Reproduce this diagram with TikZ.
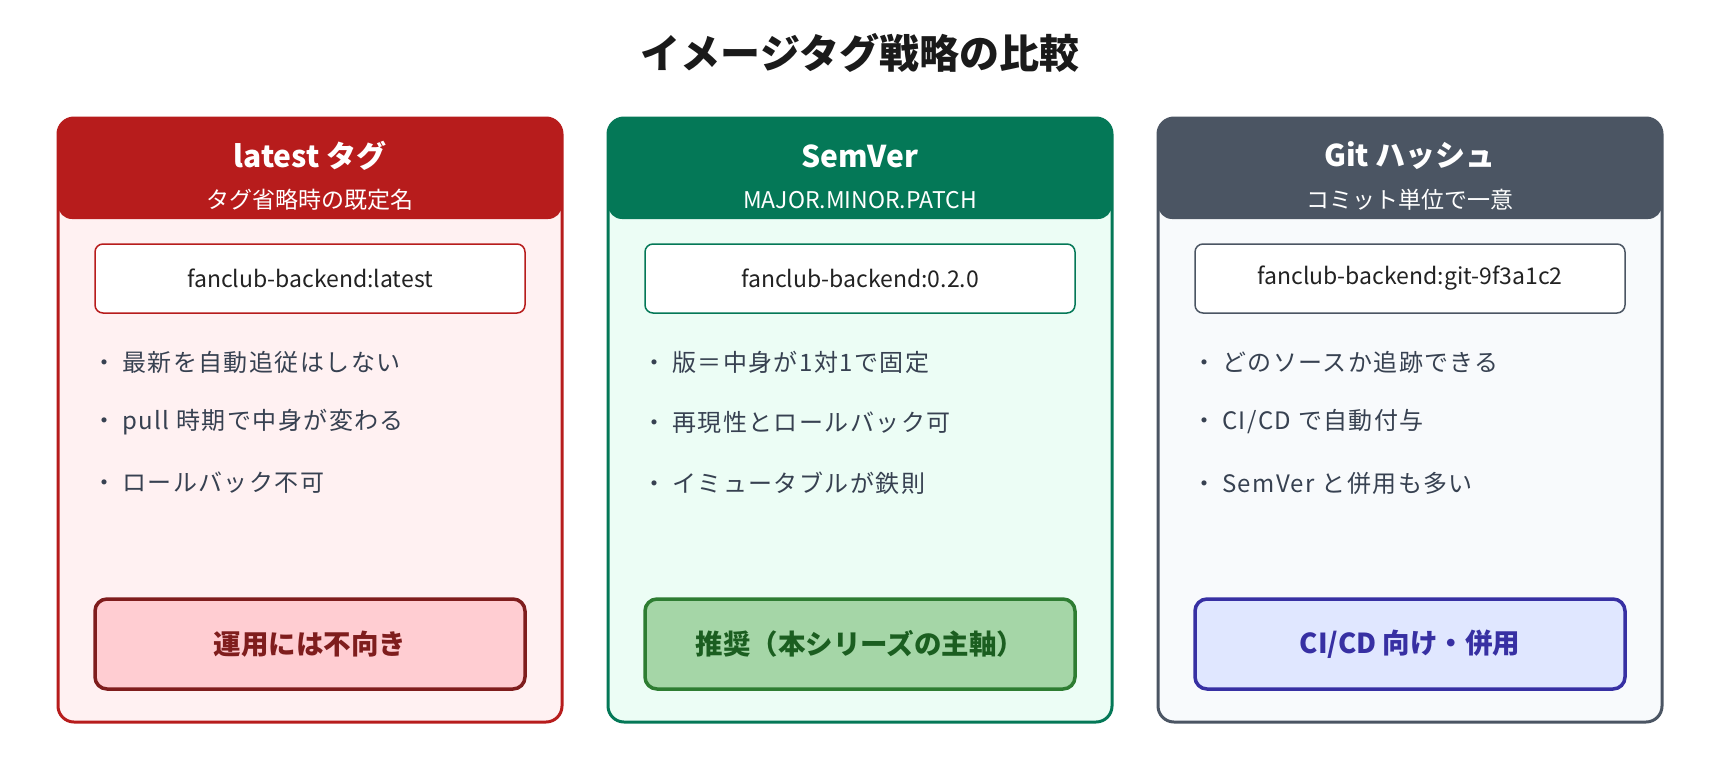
\documentclass[tikz,border=0pt]{standalone}
\usepackage{fontspec}
\setmainfont{Noto Sans CJK JP}
\definecolor{redH}{HTML}{B71C1C}
\definecolor{redBg}{HTML}{FFF1F2}
\definecolor{redVf}{HTML}{FFCDD2}
\definecolor{redVd}{HTML}{7F1D1D}
\definecolor{grnH}{HTML}{047857}
\definecolor{grnBg}{HTML}{ECFDF5}
\definecolor{grnVf}{HTML}{A5D6A7}
\definecolor{grnVd}{HTML}{2E7D32}
\definecolor{grnVt}{HTML}{1B5E20}
\definecolor{gryH}{HTML}{4B5563}
\definecolor{gryBg}{HTML}{F8FAFC}
\definecolor{bluVf}{HTML}{E0E7FF}
\definecolor{bluVd}{HTML}{3730A3}
\definecolor{txtD}{HTML}{222222}
\definecolor{txtB}{HTML}{374151}
\definecolor{ttl}{HTML}{1A1A1A}
\begin{document}
\begin{tikzpicture}[x=1pt,y=-1pt,
  card/.style={draw, line width=3pt, rounded corners=16pt, minimum width=504pt, minimum height=604pt, inner sep=0pt},
  hdr/.style={rounded corners=14pt, minimum width=504pt, minimum height=101pt, inner sep=0pt},
  htitle/.style={text=white, font=\bfseries\fontsize{30}{34}\selectfont, inner sep=0pt},
  hsub/.style={text=white, font=\fontsize{23}{27}\selectfont, inner sep=0pt},
  tagbox/.style={draw, fill=white, line width=1.5pt, rounded corners=8pt, minimum width=430pt, minimum height=69pt, inner sep=0pt, text=txtD, font=\fontsize{23}{27}\selectfont},
  verdict/.style={draw, line width=3.5pt, rounded corners=12pt, minimum width=430pt, minimum height=90pt, inner sep=0pt, font=\bfseries\fontsize{27.5}{32}\selectfont},
  bul/.style={anchor=west, inner sep=0pt, text=txtB, font=\fontsize{24}{29}\selectfont\addfontfeature{LetterSpace=6}}
]
\useasboundingbox (0,0) rectangle (1720,760);
\fill[white] (0,0) rectangle (1720,760);
\node[text=ttl, font=\bfseries\fontsize{40}{48}\selectfont] (title) at (860,53) {イメージタグ戦略の比較};

% card 1
\node[card, draw=redH, fill=redBg] (c1) at (310,420) {};
\node[hdr, fill=redH] (h1) at (310,168.5) {};
\node[htitle] (t1) at (310,156) {latest タグ};
\node[hsub] (s1) at (310,200) {タグ省略時の既定名};
\node[tagbox, draw=redH] (k1) at (310,278.5) {fanclub-backend:latest};
\node[bul] (b11) at (92,362) {・\hspace{6pt}最新を自動追従はしない};
\node[bul] (b12) at (92,422) {・\hspace{6pt}pull 時期で中身が変わる};
\node[bul] (b13) at (92,483) {・\hspace{6pt}ロールバック不可};
\node[verdict, draw=redVd, fill=redVf, text=redVd] (v1) at (310,644) {運用には不向き};

% card 2
\node[card, draw=grnH, fill=grnBg] (c2) at (860,420) {};
\node[hdr, fill=grnH] (h2) at (860,168.5) {};
\node[htitle] (t2) at (860,156) {SemVer};
\node[hsub] (s2) at (860,200) {MAJOR.MINOR.PATCH};
\node[tagbox, draw=grnH] (k2) at (860,278.5) {fanclub-backend:0.2.0};
\node[bul] (b21) at (642,362) {・\hspace{6pt}版＝中身が1対1で固定};
\node[bul] (b22) at (642,422) {・\hspace{6pt}再現性とロールバック可};
\node[bul] (b23) at (642,483) {・\hspace{6pt}イミュータブルが鉄則};
\node[verdict, draw=grnVd, fill=grnVf, text=grnVt] (v2) at (860,644) {推奨（本シリーズの主軸）};

% card 3
\node[card, draw=gryH, fill=gryBg] (c3) at (1410,420) {};
\node[hdr, fill=gryH] (h3) at (1410,168.5) {};
\node[htitle] (t3) at (1410,156) {Git ハッシュ};
\node[hsub] (s3) at (1410,200) {コミット単位で一意};
\node[tagbox, draw=gryH] (k3) at (1410,278.5) {fanclub-backend:git-9f3a1c2};
\node[bul] (b31) at (1192,362) {・\hspace{6pt}どのソースか追跡できる};
\node[bul] (b32) at (1192,422) {・\hspace{6pt}CI/CD で自動付与};
\node[bul] (b33) at (1192,483) {・\hspace{6pt}SemVer と併用も多い};
\node[verdict, draw=bluVd, fill=bluVf, text=bluVd] (v3) at (1410,644) {CI/CD 向け・併用};
\end{tikzpicture}
\end{document}
